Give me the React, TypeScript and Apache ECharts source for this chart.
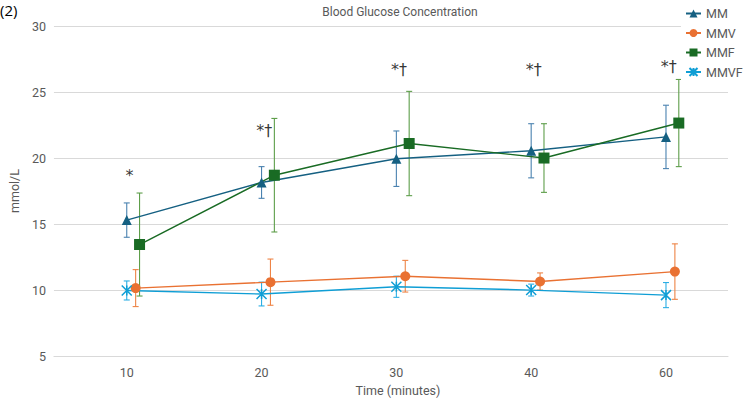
import React, { useEffect, useRef } from "react";
import * as echarts from "echarts";

// Sampling times (minutes)
const timeLabels = ["10", "20", "30", "40", "60"];

// Blood glucose, mean and SD (mmol/L)
const mmMean = [15.3, 18.15, 19.95, 20.55, 21.6];
const mmSd = [1.3, 1.2, 2.1, 2.05, 2.4];
const mmvMean = [10.15, 10.6, 11.05, 10.65, 11.4];
const mmvSd = [1.4, 1.75, 1.2, 0.65, 2.1];
const mmfMean = [13.45, 18.7, 21.1, 20.0, 22.65];
const mmfSd = [3.9, 4.3, 3.95, 2.6, 3.3];
const mmvfMean = [9.97, 9.7, 10.25, 10.0, 9.62];
const mmvfSd = [0.72, 0.9, 0.8, 0.45, 0.95];

// Significance markers above each time point
const sigMarks = ["*", "*†", "*†", "*†", "*†"];
const sigLevel = [18.7, 22.1, 26.7, 26.7, 26.9];

const AXIS_FONT = "Roboto, 'Noto Sans', sans-serif";
const GREY = "#595959";

const starPath = "path://M0,0 L10,10 M10,0 L0,10 M5,0 L5,10";

type SeriesDef = {
  name: string;
  mean: number[];
  sd: number[];
  color: string;
  errColor: string;
  symbol: string;
  symbolSize: number;
  shift: number; // horizontal dodge in category units
};

const seriesDefs: SeriesDef[] = [
  { name: "MM", mean: mmMean, sd: mmSd, color: "#156082", errColor: "#4A82B0", symbol: "triangle", symbolSize: 10, shift: 0 },
  { name: "MMV", mean: mmvMean, sd: mmvSd, color: "#E97132", errColor: "#EE8446", symbol: "circle", symbolSize: 10, shift: 0.066 },
  { name: "MMF", mean: mmfMean, sd: mmfSd, color: "#196B24", errColor: "#5E9E4A", symbol: "rect", symbolSize: 11, shift: 0.095 },
  { name: "MMVF", mean: mmvfMean, sd: mmvfSd, color: "#0F9ED5", errColor: "#2BAEE4", symbol: starPath, symbolSize: 10, shift: 0 },
];

function buildOption(): echarts.EChartsCoreOption {
  const series: any[] = [];

  seriesDefs.forEach((s) => {
    series.push({
      name: s.name + " SD",
      type: "custom",
      z: 1,
      silent: true,
      encode: { x: 0, y: [1, 2] },
      data: s.mean.map((m, i) => [i + s.shift, m - s.sd[i], m + s.sd[i]]),
      renderItem: (_params: any, api: any) => {
        const x = api.value(0);
        const top = api.coord([x, api.value(2)]);
        const bot = api.coord([x, api.value(1)]);
        const cap = 3;
        const style = { stroke: s.errColor, lineWidth: 1.1 };
        return {
          type: "group",
          children: [
            { type: "line", shape: { x1: top[0], y1: top[1], x2: bot[0], y2: bot[1] }, style },
            { type: "line", shape: { x1: top[0] - cap, y1: top[1], x2: top[0] + cap, y2: top[1] }, style },
            { type: "line", shape: { x1: bot[0] - cap, y1: bot[1], x2: bot[0] + cap, y2: bot[1] }, style },
          ],
        };
      },
    });
  });

  seriesDefs.forEach((s) => {
    const isStar = s.symbol === starPath;
    series.push({
      name: s.name,
      type: "line",
      z: 3,
      data: s.mean.map((m, i) => [i + s.shift, m]),
      symbol: s.symbol,
      symbolSize: s.symbolSize,
      showAllSymbol: true,
      lineStyle: { color: s.color, width: 1.4 },
      itemStyle: isStar
        ? { color: "rgba(0,0,0,0)", borderColor: s.color, borderWidth: 1.5 }
        : { color: s.color, borderColor: s.color, borderWidth: 0 },
    });
  });

  series.push({
    name: "significance",
    type: "scatter",
    z: 4,
    silent: true,
    symbol: "circle",
    symbolSize: 1,
    itemStyle: { color: "rgba(0,0,0,0)" },
    data: sigMarks.map((_t, i) => [i + 0.02, sigLevel[i]]),
    label: {
      show: true,
      position: "inside",
      formatter: (p: any) => sigMarks[p.dataIndex],
      color: "#000",
      fontSize: 16,
      fontFamily: "'DejaVu Sans', sans-serif",
    },
  });

  return {
    animation: false,
    backgroundColor: "#ffffff",
    title: {
      text: "Blood Glucose Concentration",
      left: 395,
      top: 1,
      textAlign: "center",
      textStyle: { color: GREY, fontSize: 12, fontWeight: "normal", fontFamily: AXIS_FONT },
    },
    legend: {
      orient: "vertical",
      left: 681,
      top: 5,
      padding: [2, 4],
      backgroundColor: "#ffffff",
      itemWidth: 15,
      itemHeight: 10,
      itemGap: 6.5,
      data: seriesDefs.map((s) => s.name),
      textStyle: { color: GREY, fontSize: 12.5, fontFamily: AXIS_FONT },
    },
    grid: { left: 43, right: 16, top: 26, bottom: 42, containLabel: false },
    xAxis: {
      type: "value",
      min: -0.54,
      max: 4.46,
      name: "Time (minutes)",
      nameLocation: "middle",
      nameGap: 27,
      nameTextStyle: { color: GREY, fontSize: 12.5, fontFamily: AXIS_FONT, padding: [0, 0, 0, 14] },
      axisLine: { show: true, lineStyle: { color: "#D9D9D9", width: 1 } },
      axisTick: { show: false },
      splitLine: { show: false },
      axisLabel: {
        customValues: [0, 1, 2, 3, 4],
        formatter: (v: number) => timeLabels[Math.round(v)] ?? "",
        color: GREY,
        fontSize: 12.5,
        fontFamily: AXIS_FONT,
        margin: 10,
      },
    },
    yAxis: {
      type: "value",
      min: 5,
      max: 30,
      interval: 5,
      name: "mmol/L",
      nameLocation: "middle",
      nameGap: 29,
      nameTextStyle: { color: GREY, fontSize: 12.5, fontFamily: AXIS_FONT },
      axisLine: { show: false },
      axisTick: { show: false },
      splitLine: { lineStyle: { color: "#D9D9D9", width: 1 } },
      axisLabel: { color: GREY, fontSize: 12.5, fontFamily: AXIS_FONT, margin: 8 },
    },
    graphic: [
      {
        type: "text",
        left: 0,
        top: 2,
        style: { text: "(2)", fill: "#000", fontSize: 15, fontFamily: "'Open Sans', sans-serif" },
      },
    ],
    series,
  };
}

export default function App() {
  const ref = useRef<HTMLDivElement | null>(null);

  useEffect(() => {
    if (!ref.current) return;
    const chart = echarts.init(ref.current, undefined, { renderer: "svg" });
    chart.setOption(buildOption());
    return () => chart.dispose();
  }, []);

  return (
    <div
      ref={ref}
      style={{ position: "fixed", left: 0, top: 0, width: 744, height: 402, background: "#fff" }}
    />
  );
}
